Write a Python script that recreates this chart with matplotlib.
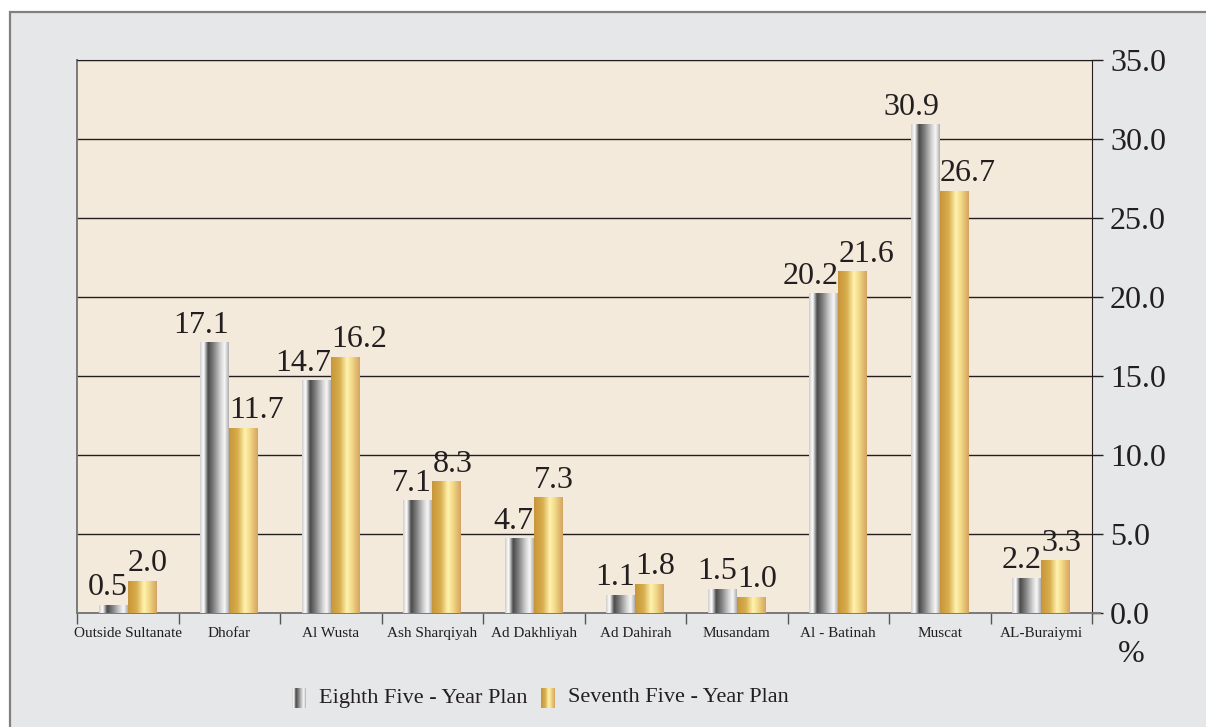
import numpy as np
import matplotlib.pyplot as plt
from matplotlib.colors import LinearSegmentedColormap
from matplotlib.patches import Rectangle

regions = ['Outside Sultanate', 'Dhofar', 'Al Wusta', 'Ash Sharqiyah', 'Ad Dakhliyah',
           'Ad Dahirah', 'Musandam', 'Al - Batinah', 'Muscat', 'AL-Buraiymi']
eighth = [0.5, 17.1, 14.7, 7.1, 4.7, 1.1, 1.5, 20.2, 30.9, 2.2]
seventh = [2.0, 11.7, 16.2, 8.3, 7.3, 1.8, 1.0, 21.6, 26.7, 3.3]
yticks = [0, 5, 10, 15, 20, 25, 30, 35]
series_names = ['Eighth Five - Year Plan', 'Seventh Five - Year Plan']

plt.rcParams['font.family'] = ['Liberation Serif', 'DejaVu Serif']

gray_cm = LinearSegmentedColormap.from_list('grayc', [
    (0.0, '#cfcfcf'), (0.12, '#ffffff'), (0.28, '#4a4a4a'), (0.5, '#8a8a8a'),
    (0.72, '#d4d4d4'), (0.86, '#f7f7f7'), (1.0, '#b0b0b0')])
gold_cm = LinearSegmentedColormap.from_list('goldc', [
    (0.0, '#c8963a'), (0.3, '#d8ae4e'), (0.55, '#fff2ae'), (0.72, '#f3da88'),
    (1.0, '#d5a561')])
grad = np.linspace(0, 1, 64).reshape(1, -1)

fig = plt.figure(figsize=(12.06, 7.27), dpi=100)
fig.patch.set_facecolor('white')
fig.patches.append(Rectangle((10 / 1206, -0.01), 1.2, 1 - 12 / 727 + 0.01,
                             transform=fig.transFigure, facecolor='#e6e7e9',
                             edgecolor='#808080', lw=1.6, zorder=-10))

ax = fig.add_axes([77 / 1206, 1 - 613 / 727, (1092 - 77) / 1206, (613 - 60) / 727])
ax.set_facecolor('#f4eadb')

bw = 0.285
for i, (a, b) in enumerate(zip(eighth, seventh)):
    c = i + 0.5
    ax.imshow(grad, cmap=gray_cm, extent=[c - bw, c, 0, a], aspect='auto', zorder=3)
    ax.imshow(grad, cmap=gold_cm, extent=[c, c + bw, 0, b], aspect='auto', zorder=3)
    ax.text(c, a + 0.2, f'{a:.1f}', ha='right', va='bottom',
            fontsize=23, color='#231f20', zorder=4)
    ax.text(c, b + 0.2, f'{b:.1f}', ha='left', va='bottom',
            fontsize=23, color='#231f20', zorder=4)
ax.set_xlim(0, len(regions))
ax.set_ylim(0, 35)

ax.yaxis.tick_right()
ax.set_yticks(yticks)
ax.set_yticklabels([f'{v:.1f}' for v in yticks], fontsize=23, color='#231f20')
ax.tick_params(axis='y', direction='out', length=8, width=1, pad=5, color='#231f20')
ax.grid(axis='y', color='#231f20', lw=1, zorder=1)

ax.set_xticks(np.arange(0, len(regions) + 1))
ax.set_xticklabels([])
ax.set_xticks(np.arange(len(regions)) + 0.5, minor=True)
ax.set_xticklabels(regions, minor=True, fontsize=11, color='#231f20')
ax.tick_params(axis='x', which='major', direction='out', length=8, width=1, color='#555555')
ax.tick_params(axis='x', which='minor', length=0, pad=10)

for s in ['left', 'bottom']:
    ax.spines[s].set_color('#7a7a7a')
    ax.spines[s].set_linewidth(1.4)
ax.spines['right'].set_color('#231f20')
ax.spines['top'].set_color('#231f20')
ax.plot([1, 1.008], [0, 0], transform=ax.transAxes, clip_on=False, color='#7a7a7a', lw=1.4)

fig.text(1131 / 1206, 1 - 655 / 727, '%', fontsize=23, ha='center', va='center', color='#231f20')

# legend
for x0, cm, label in [(292, gray_cm, series_names[0]), (541, gold_cm, series_names[1])]:
    lax = fig.add_axes([x0 / 1206, 1 - 708 / 727, 14 / 1206, 20 / 727])
    lax.imshow(grad, cmap=cm, aspect='auto')
    lax.axis('off')
    fig.text((x0 + 27) / 1206, 1 - 698 / 727, label, fontsize=16, ha='left', va='center',
             color='#231f20')

fig.savefig('out.png', dpi=100)
